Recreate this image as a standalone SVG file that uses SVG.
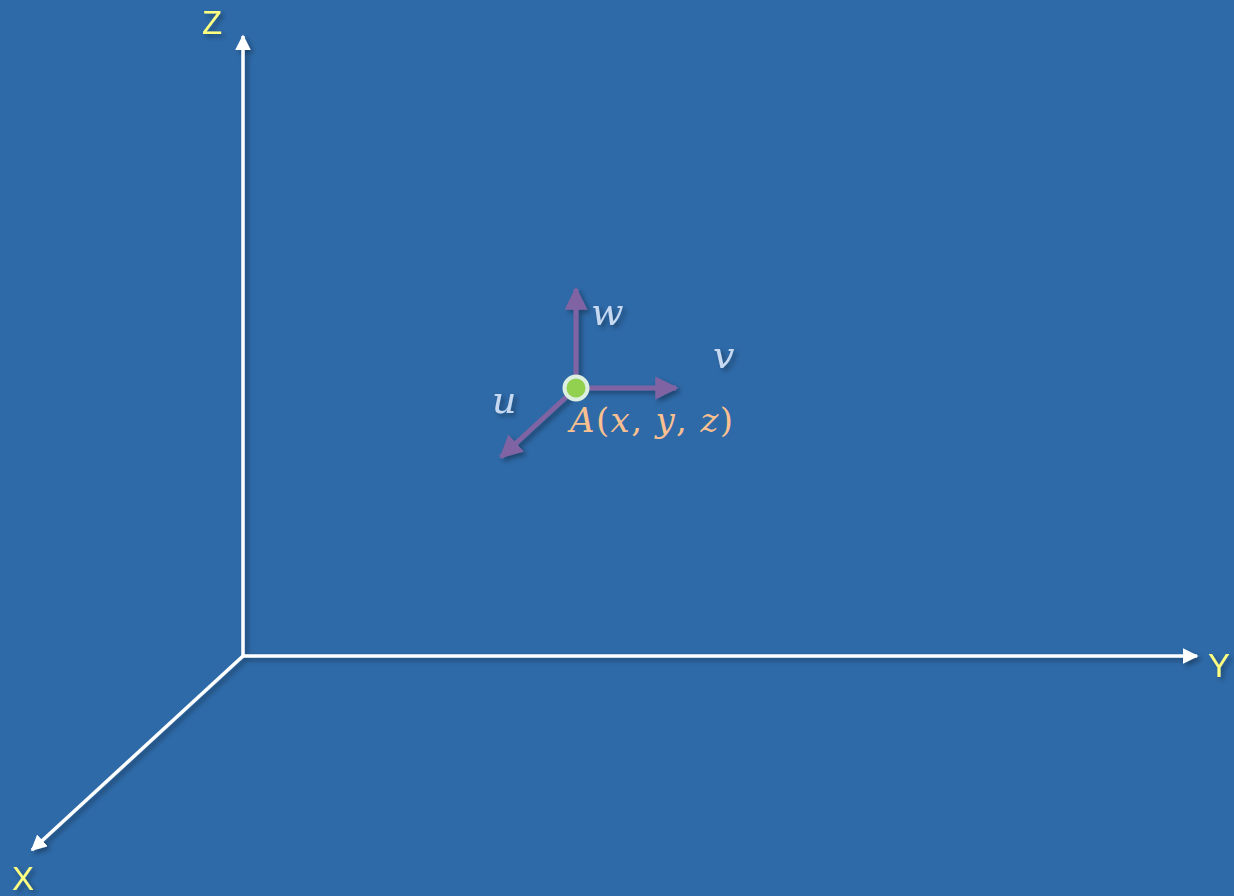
<svg xmlns="http://www.w3.org/2000/svg" width="1234" height="896" viewBox="0 0 1234 896">
<style>
.axis{stroke:#FFFFFF;stroke-width:3.5;fill:none}
.vec{stroke:#8064A2;stroke-width:5;fill:none}
.axlbl{font-family:"Liberation Sans",Arial,sans-serif;font-size:33px;fill:#FFFF80}
.vlbl{font-family:"DejaVu Serif","Liberation Serif",serif;font-style:italic;font-size:38px;fill:#C6D9F1}
.albl{font-family:"DejaVu Serif","Liberation Serif",serif;font-size:34px;fill:#FAC090}
.it{font-style:italic}
</style>
<defs>
<marker id="wa" viewBox="0 0 10 10" refX="9" refY="5" markerWidth="4.5" markerHeight="4.5" orient="auto" markerUnits="strokeWidth">
<path d="M0,0 L10,5 L0,10 Z" fill="#FFFFFF"/>
</marker>
<marker id="pa" viewBox="0 0 10 10" refX="9" refY="5" markerWidth="4.6" markerHeight="4.6" orient="auto" markerUnits="strokeWidth">
<path d="M0,0 L10,5 L0,10 Z" fill="#8064A2"/>
</marker>
<filter id="sh" x="-20%" y="-20%" width="140%" height="140%">
<feDropShadow dx="3" dy="3" stdDeviation="2.5" flood-color="#000000" flood-opacity="0.35"/>
</filter>
</defs>
<rect width="1234" height="896" fill="#2E6AA8"/>
<g id="connectors" filter="url(#sh)">
<line class="axis" x1="243" y1="656" x2="243" y2="36" marker-end="url(#wa)"/>
<line class="axis" x1="243" y1="656" x2="1197" y2="656" marker-end="url(#wa)"/>
<line class="axis" x1="243" y1="656" x2="32" y2="850" marker-end="url(#wa)"/>
<line class="vec" x1="576" y1="388" x2="576" y2="289" marker-end="url(#pa)"/>
<line class="vec" x1="576" y1="388" x2="676" y2="388" marker-end="url(#pa)"/>
<line class="vec" x1="576" y1="388" x2="501" y2="457" marker-end="url(#pa)"/>
</g>
<g id="point-A">
<circle cx="576" cy="388" r="11.5" fill="#92D050" stroke="#DDEFE0" stroke-width="4"/>
<text class="albl" x="570" y="432" textLength="163" lengthAdjust="spacing"><tspan class="it">A</tspan>(<tspan class="it">x</tspan>, <tspan class="it">y</tspan>, <tspan class="it">z</tspan>)</text>
</g>
<g id="labels" filter="url(#sh)">
<text class="axlbl" x="212" y="34" text-anchor="middle">Z</text>
<text class="axlbl" x="1219" y="677" text-anchor="middle">Y</text>
<text class="axlbl" x="23" y="890" text-anchor="middle">X</text>
<text class="vlbl" x="591" y="325">w</text>
<text class="vlbl" x="713" y="368">v</text>
<text class="vlbl" x="492" y="413">u</text>
</g>
</svg>
